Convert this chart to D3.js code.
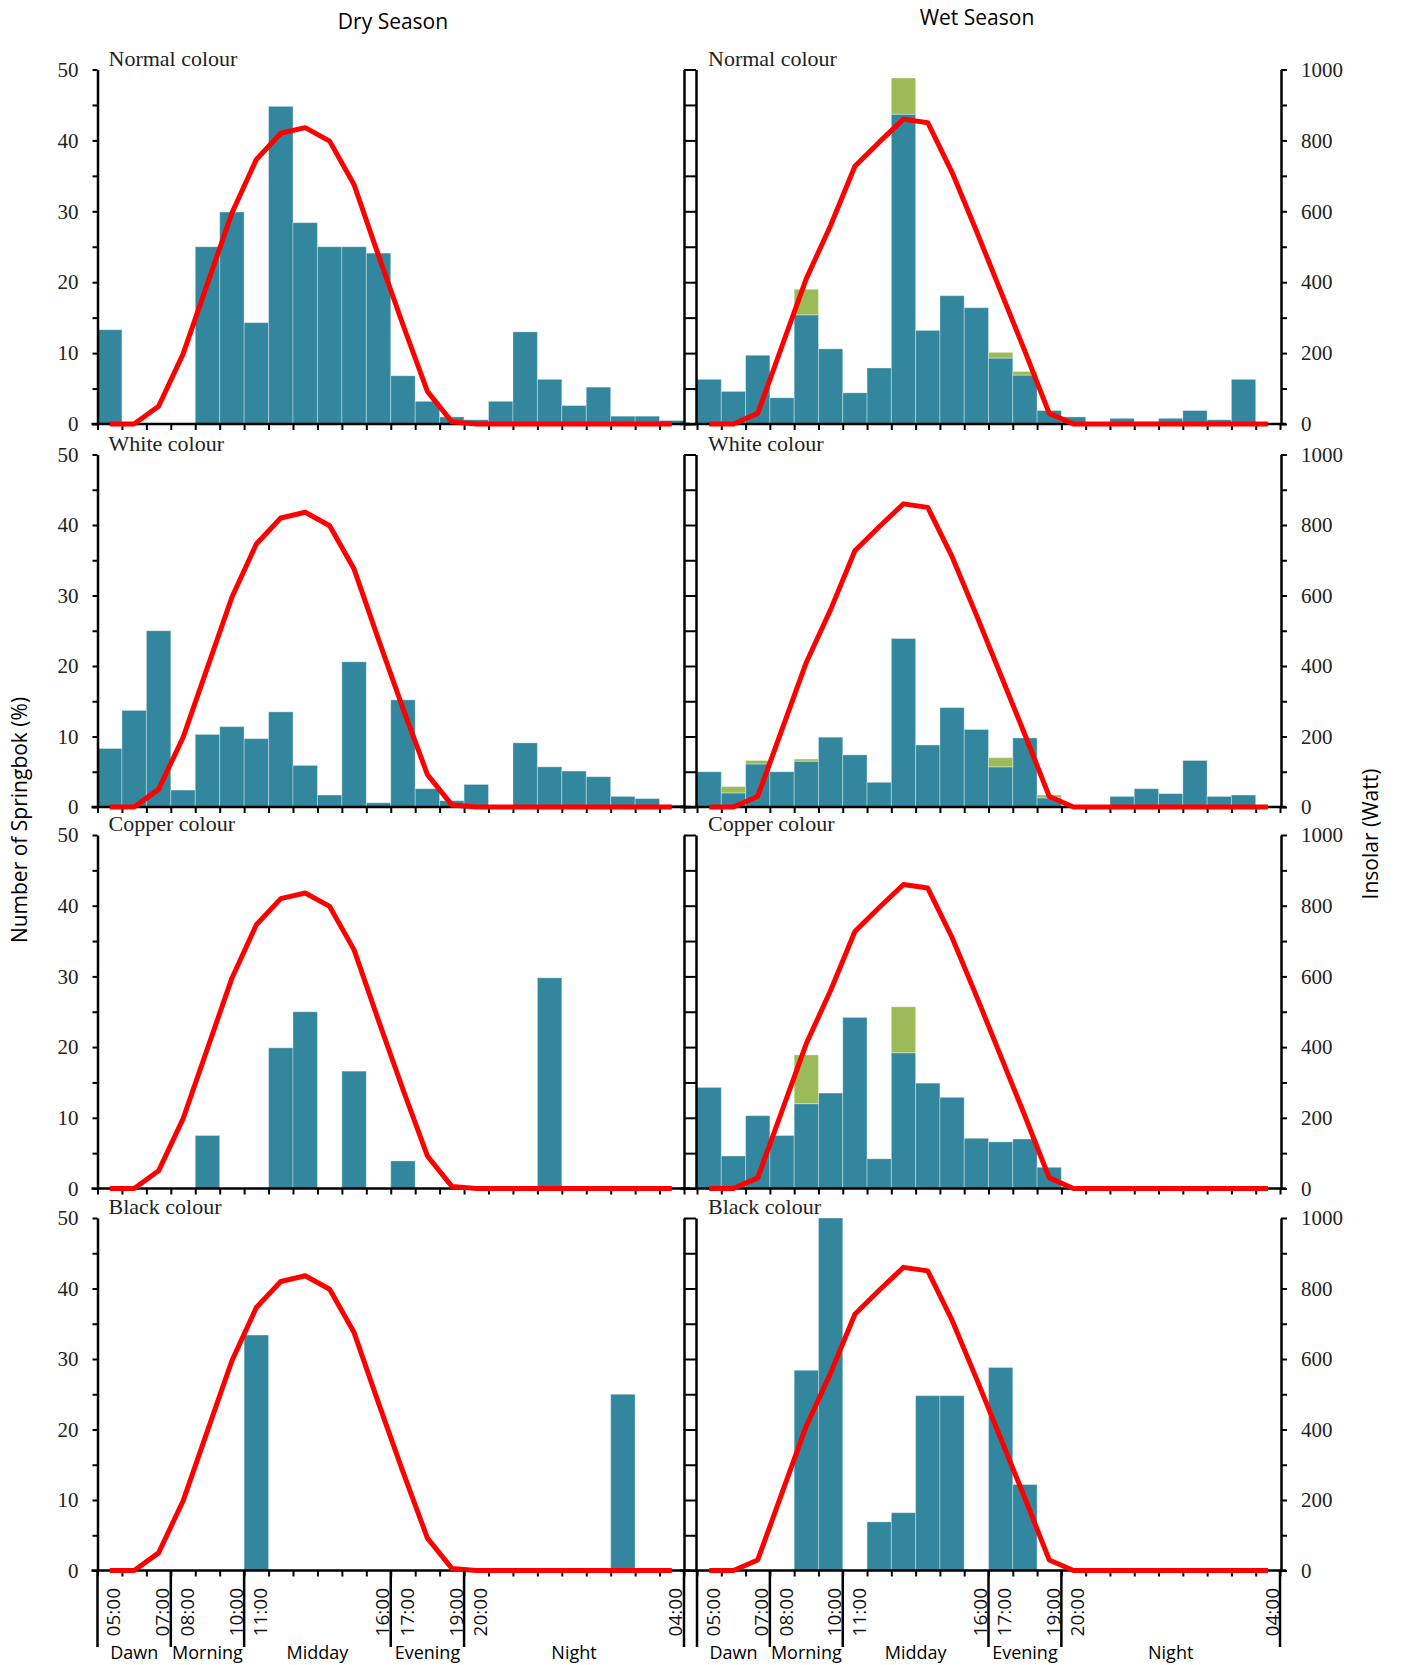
<!DOCTYPE html>
<html>
<head>
<meta charset="utf-8">
<script src="https://cdn.jsdelivr.net/npm/d3@7"></script>
<style>
  html, body { margin: 0; padding: 0; background: #fff; }
  svg { display: block; }
</style>
</head>
<body>
<svg id="chart" width="1401" height="1665"></svg>
<script>
// ---------------- DATA ----------------
const hours = ["05:00","06:00","07:00","08:00","09:00","10:00","11:00","12:00","13:00","14:00","15:00","16:00",
               "17:00","18:00","19:00","20:00","21:00","22:00","23:00","00:00","01:00","02:00","03:00","04:00"];
const tickLabels = ["05:00","07:00","08:00","10:00","11:00","16:00","17:00","19:00","20:00","04:00"];
const periods = ["Dawn","Morning","Midday","Evening","Night"];
const periodStarts = ["05:00","08:00","11:00","17:00","20:00"];
const colourGroups = ["Normal colour","White colour","Copper colour","Black colour"];
const seasons = ["Dry Season","Wet Season"];
const leftTicks = [0,5,10,15,20,25,30,35,40,45,50];
const rightTicks = [0,100,200,300,400,500,600,700,800,900,1000];

// Insolation (Watt)
const insolarDry = [0,0,50,197,396,595,746,820,836,798,675,475,280,92,6,0,0,0,0,0,0,0,0,0];
const insolarWet = [0,0,30,220,410,560,727,795,860,850,710,545,375,205,30,0,0,0,0,0,0,0,0,0];

// Dry season (% of springbok)
const dryNormal = [13.3,0,0,0,25.0,29.9,14.3,44.8,28.4,25.0,25.0,24.1,6.8,3.2,1.0,0.6,3.2,13.0,6.3,2.6,5.2,1.1,1.1,0.5];
const dryWhite  = [8.3,13.7,25.0,2.4,10.3,11.4,9.7,13.5,5.9,1.7,20.6,0.6,15.2,2.6,0.9,3.2,0,9.1,5.7,5.1,4.3,1.5,1.2,0.3];
const dryCopper = [0,0,0,0,7.5,0,0,19.9,25.0,0,16.6,0,3.9,0,0,0,0,0,29.8,0,0,0,0,0];
const dryBlack  = [0,0,0,0,0,0,33.4,0,0,0,0,0,0,0,0,0,0,0,0,0,0,25.0,0,0];

// Wet season (% of springbok) – teal part and green top part
const wetNormal      = [6.3,4.6,9.7,3.7,15.4,10.6,4.4,7.9,43.7,13.2,18.1,16.4,9.3,6.9,1.9,1.0,0,0.8,0.3,0.8,1.9,0.6,6.3,0];
const wetNormalExtra = [0,0,0,0,3.6,0,0,0,5.1,0,0,0,0.8,0.5,0,0,0,0,0,0,0,0,0,0];
const wetWhite       = [5.0,2.0,6.1,5.0,6.5,9.9,7.4,3.5,23.9,8.8,14.1,11.0,5.7,9.8,1.3,0,0,1.5,2.6,1.9,6.6,1.5,1.7,0];
const wetWhiteExtra  = [0,0.9,0.5,0,0.3,0,0,0,0,0,0,0,1.3,0,0.4,0,0,0,0,0,0,0,0,0];
const wetCopper      = [14.3,4.6,10.3,7.5,12.0,13.5,24.2,4.2,19.2,14.9,12.9,7.1,6.6,7.0,3.0,0,0,0,0,0,0,0,0,0];
const wetCopperExtra = [0,0,0,0,6.9,0,0,0,6.5,0,0,0,0,0,0,0,0,0,0,0,0,0,0,0];
const wetBlack       = [0,0,0,0,28.4,50,0,6.9,8.2,24.8,24.8,0,28.8,12.2,0,0,0,0,0,0,0,0,0,0];
const wetBlackExtra  = [0,0,0,0,0,0,0,0,0,0,0,0,0,0,0,0,0,0,0,0,0,0,0,0];
const zeros24        = [0,0,0,0,0,0,0,0,0,0,0,0,0,0,0,0,0,0,0,0,0,0,0,0];

// ---------------- LAYOUT ----------------
const svg = d3.select("#chart");
const TEAL = "#32869d", GREEN = "#9bbb59", RED = "#ff0000";
const serif = "'Liberation Serif', 'DejaVu Serif', serif";
const sans = "'Open Sans', 'Noto Sans', sans-serif";
const rowTop = [69.5, 454.5, 835, 1218];
const rowBottom = [424, 807, 1188.5, 1570.5];
const colRange = [[97.5, 684], [697, 1280]];
const dividerBottom = 1647;

const panels = [
  [dryNormal, zeros24, wetNormal, wetNormalExtra],
  [dryWhite, zeros24, wetWhite, wetWhiteExtra],
  [dryCopper, zeros24, wetCopper, wetCopperExtra],
  [dryBlack, zeros24, wetBlack, wetBlackExtra]
];

function styleAxis(sel, w) {
  sel.select(".domain").attr("stroke", "#000").attr("stroke-width", w);
  sel.selectAll(".tick line").attr("stroke", "#000").attr("stroke-width", 2);
  sel.selectAll(".tick text").attr("font-family", serif).attr("font-size", 21).attr("fill", "#222");
}

for (let r = 0; r < 4; r++) {
  for (let c = 0; c < 2; c++) {
    const [x0, x1] = colRange[c];
    const top = rowTop[r], bottom = rowBottom[r];
    const x = d3.scaleBand().domain(hours).range([x0, x1]).padding(0);
    const xLin = d3.scaleLinear().domain([0, hours.length]).range([x0, x1]);
    const y = d3.scaleLinear().domain([0, 50]).range([bottom, top]);
    const yIns = d3.scaleLinear().domain([0, 1000]).range([bottom, top]);
    const vals = panels[r][c * 2];
    const extra = panels[r][c * 2 + 1];
    const ins = c === 0 ? insolarDry : insolarWet;
    const g = svg.append("g");

    // bars
    const bars = hours.map((h, i) => ({h, v: vals[i], e: extra[i]}));
    g.selectAll("rect.teal").data(bars.filter(d => d.v > 0)).join("rect")
      .attr("x", d => x(d.h)).attr("width", x.bandwidth())
      .attr("y", d => y(d.v)).attr("height", d => y(0) - y(d.v))
      .attr("fill", TEAL).attr("stroke", "rgba(255,255,255,0.35)").attr("stroke-width", 1);
    g.selectAll("rect.green").data(bars.filter(d => d.e > 0)).join("rect")
      .attr("x", d => x(d.h)).attr("width", x.bandwidth())
      .attr("y", d => y(d.v + d.e)).attr("height", d => y(d.v) - y(d.v + d.e))
      .attr("fill", GREEN).attr("stroke", "rgba(255,255,255,0.35)").attr("stroke-width", 1);

    // bottom axis with ticks at bin boundaries
    const bx = g.append("g").attr("transform", `translate(0,${bottom})`)
      .call(d3.axisBottom(xLin).ticks(24).tickSize(6).tickSizeOuter(0).tickFormat(""));
    styleAxis(bx, 2.5);
    bx.select(".domain").attr("d", `M${c === 0 ? x0 - 6 : x0 - 17},0H${x1 + 6}`);

    if (c === 0) {
      const la = g.append("g").attr("transform", `translate(${x0},0)`)
        .call(d3.axisLeft(y).tickValues(leftTicks).tickSize(5).tickSizeOuter(0)
          .tickFormat(d => d % 10 === 0 ? d : ""));
      styleAxis(la, 2.5);
      la.selectAll(".tick text").attr("x", -19);
      const ra = g.append("g").attr("transform", `translate(${x1},0)`)
        .call(d3.axisRight(y).tickValues(leftTicks).tickSize(6).tickSizeOuter(0).tickFormat(""));
      styleAxis(ra, 2.5);
    } else {
      const la = g.append("g").attr("transform", `translate(${x0 - 1},0)`)
        .call(d3.axisLeft(yIns).tickValues(rightTicks).tickSize(6).tickSizeOuter(0).tickFormat(""));
      styleAxis(la, 2.5);
      const ra = g.append("g").attr("transform", `translate(${x1 + 1},0)`)
        .call(d3.axisRight(yIns).tickValues(rightTicks).tickSize(6).tickSizeOuter(0)
          .tickFormat(d => d % 200 === 0 ? d : ""));
      styleAxis(ra, 2.5);
      ra.selectAll(".tick text").attr("x", 20);
    }

    // insolation line
    const line = d3.line().x((d, i) => x(hours[i]) + x.bandwidth() / 2).y(d => yIns(d));
    g.append("path").datum(ins).attr("d", line).attr("fill", "none")
      .attr("stroke", RED).attr("stroke-width", 5).attr("stroke-linejoin", "round");

    // panel label
    g.append("text").attr("x", x0 + 11).attr("y", top - 4)
      .attr("font-family", serif).attr("font-size", 22).attr("fill", "#222")
      .text(colourGroups[r]);

    // bottom row: time labels, period dividers, period labels
    if (r === 3) {
      g.selectAll("text.tl").data(tickLabels).join("text")
        .attr("transform", d => `translate(${x(d) + x.bandwidth() / 2 + 4},1588) rotate(-90)`)
        .attr("text-anchor", "end").attr("dy", "0.35em")
        .attr("font-family", sans).attr("font-size", 19).attr("fill", "#111")
        .text(d => d);
      const bounds = periodStarts.map(p => x(p)).concat([x1]);
      g.selectAll("line.div").data(bounds).join("line")
        .attr("x1", d => d).attr("x2", d => d)
        .attr("y1", bottom).attr("y2", dividerBottom)
        .attr("stroke", "#000").attr("stroke-width", 2.5);
      g.selectAll("text.per").data(periods).join("text")
        .attr("x", (d, i) => (bounds[i] + bounds[i + 1]) / 2)
        .attr("y", 1659).attr("text-anchor", "middle")
        .attr("font-family", sans).attr("font-size", 18).attr("fill", "#000")
        .text(d => d);
    }
  }
}

// season titles
svg.append("text").attr("x", 393).attr("y", 29).attr("text-anchor", "middle")
  .attr("font-family", sans).attr("font-size", 21).attr("fill", "#000").text(seasons[0]);
svg.append("text").attr("x", 977).attr("y", 25).attr("text-anchor", "middle")
  .attr("font-family", sans).attr("font-size", 21).attr("fill", "#000").text(seasons[1]);

// axis titles
svg.append("text").attr("transform", "translate(27,820) rotate(-90)").attr("text-anchor", "middle")
  .attr("font-family", sans).attr("font-size", 21).attr("fill", "#000").text("Number of Springbok (%)");
svg.append("text").attr("transform", "translate(1378,834) rotate(-90)").attr("text-anchor", "middle")
  .attr("font-family", sans).attr("font-size", 21).attr("fill", "#000").text("Insolar (Watt)");
</script>
</body>
</html>
